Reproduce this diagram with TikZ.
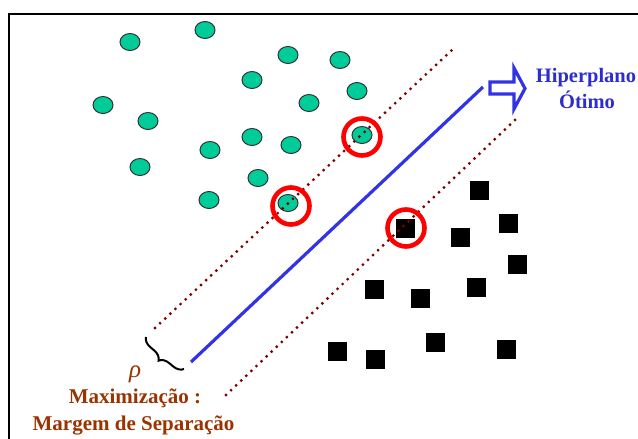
\documentclass[tikz,border=0pt]{standalone}
\usepackage{fontspec}
\setmainfont{Liberation Serif}
\usetikzlibrary{shapes.geometric,decorations.pathreplacing}
\definecolor{ptgreen}{RGB}{0,204,153}
\definecolor{marginred}{RGB}{128,0,0}
\definecolor{hypblue}{RGB}{51,51,230}
\definecolor{labelblue}{RGB}{45,45,205}
\definecolor{labelbrown}{RGB}{153,51,0}
\tikzset{
  posclass/.style={ellipse, draw=black!80, line width=1pt, fill=ptgreen,
    minimum width=20, minimum height=17, inner sep=0},
  negclass/.style={rectangle, fill=black, minimum size=19, inner sep=0},
  svring/.style={circle, draw=red, line width=4.6, minimum size=37, inner sep=0},
  marginline/.style={draw=marginred, line width=3.2, dash pattern=on 0pt off 7pt, line cap=round},
  hypline/.style={draw=hypblue, line width=3.2},
  bluelabel/.style={text=labelblue, font=\fontsize{20.5}{24}\selectfont\bfseries, inner sep=0, anchor=base},
  brownlabel/.style={text=labelbrown, font=\fontsize{21}{25}\selectfont\bfseries, inner sep=0, anchor=base},
}
\begin{document}
\begin{tikzpicture}[x=1pt,y=-1pt]
\useasboundingbox (0,0) rectangle (638,439);

% frame (top and left edges)
\coordinate (fTR) at (638,14);
\coordinate (fTL) at (9,14);
\coordinate (fBL) at (9,439);
\draw[line width=1.5] (fTR) -- (fTL) -- (fBL);

% class +1 (green)
\node[posclass] (p1) at (130,42) {};
\node[posclass] (p2) at (205,30) {};
\node[posclass] (p3) at (288,55) {};
\node[posclass] (p4) at (340,60) {};
\node[posclass] (p5) at (252,80) {};
\node[posclass] (p6) at (357,91) {};
\node[posclass] (p7) at (103,105) {};
\node[posclass] (p8) at (309,103) {};
\node[posclass] (p9) at (148,121) {};
\node[posclass] (p10) at (252,137) {};
\node[posclass] (p11) at (291,145) {};
\node[posclass] (p12) at (210,150) {};
\node[posclass] (p13) at (140,167) {};
\node[posclass] (p14) at (258,178) {};
\node[posclass] (p15) at (209,200) {};
\node[posclass] (sv1) at (362,135) {};
\node[posclass] (sv2) at (288,203) {};

% class -1 (black)
\node[negclass] (n1) at (479,190) {};
\node[negclass] (n2) at (508,223) {};
\node[negclass] (n3) at (460,237) {};
\node[negclass] (n4) at (517,264) {};
\node[negclass] (n5) at (374,289) {};
\node[negclass] (n6) at (420,298) {};
\node[negclass] (n7) at (476,287) {};
\node[negclass] (n8) at (337,351) {};
\node[negclass] (n9) at (375,359) {};
\node[negclass] (n10) at (435,342) {};
\node[negclass] (n11) at (506,349) {};
\node[negclass] (sv3) at (405,228) {};

% margin boundaries
\coordinate (mUa) at (155,328);
\coordinate (mUb) at (452,50);
\coordinate (mLa) at (226,395);
\coordinate (mLb) at (516,119);
\draw[marginline] (mUa) -- (mUb);
\draw[marginline] (mLa) -- (mLb);

% optimal hyperplane
\coordinate (hA) at (191,362);
\coordinate (hB) at (483,87);
\draw[hypline] (hA) -- (hB);

% support vector rings
\node[svring] (r1) at (362,137) {};
\node[svring] (r2) at (291,206) {};
\node[svring] (r3) at (406,228) {};

% hollow arrow pointing to the label
\draw[draw=hypblue, fill=white, line width=3.2, line join=miter]
  (490,82) -- (514,82) -- (514,68) -- (525,88.5) -- (514,109) -- (514,94) -- (490,94) -- cycle;

\node[bluelabel] (hl1) at (586,82) {Hiperplano};
\node[bluelabel] (hl2) at (587,108) {Ótimo};

% margin width brace and label
\coordinate (bA) at (184,369);
\coordinate (bB) at (146,337);
\draw[decorate, decoration={brace, amplitude=10pt}, line width=2] (bA) -- (bB);
\node[text=labelbrown, font=\fontsize{25}{28}\selectfont\itshape, inner sep=0] (rho) at (135,374) {ρ};

\node[brownlabel] (ml1) at (135,403) {Maximização :};
\node[brownlabel] (ml2) at (133.5,430) {Margem de Separação};
\end{tikzpicture}
\end{document}
